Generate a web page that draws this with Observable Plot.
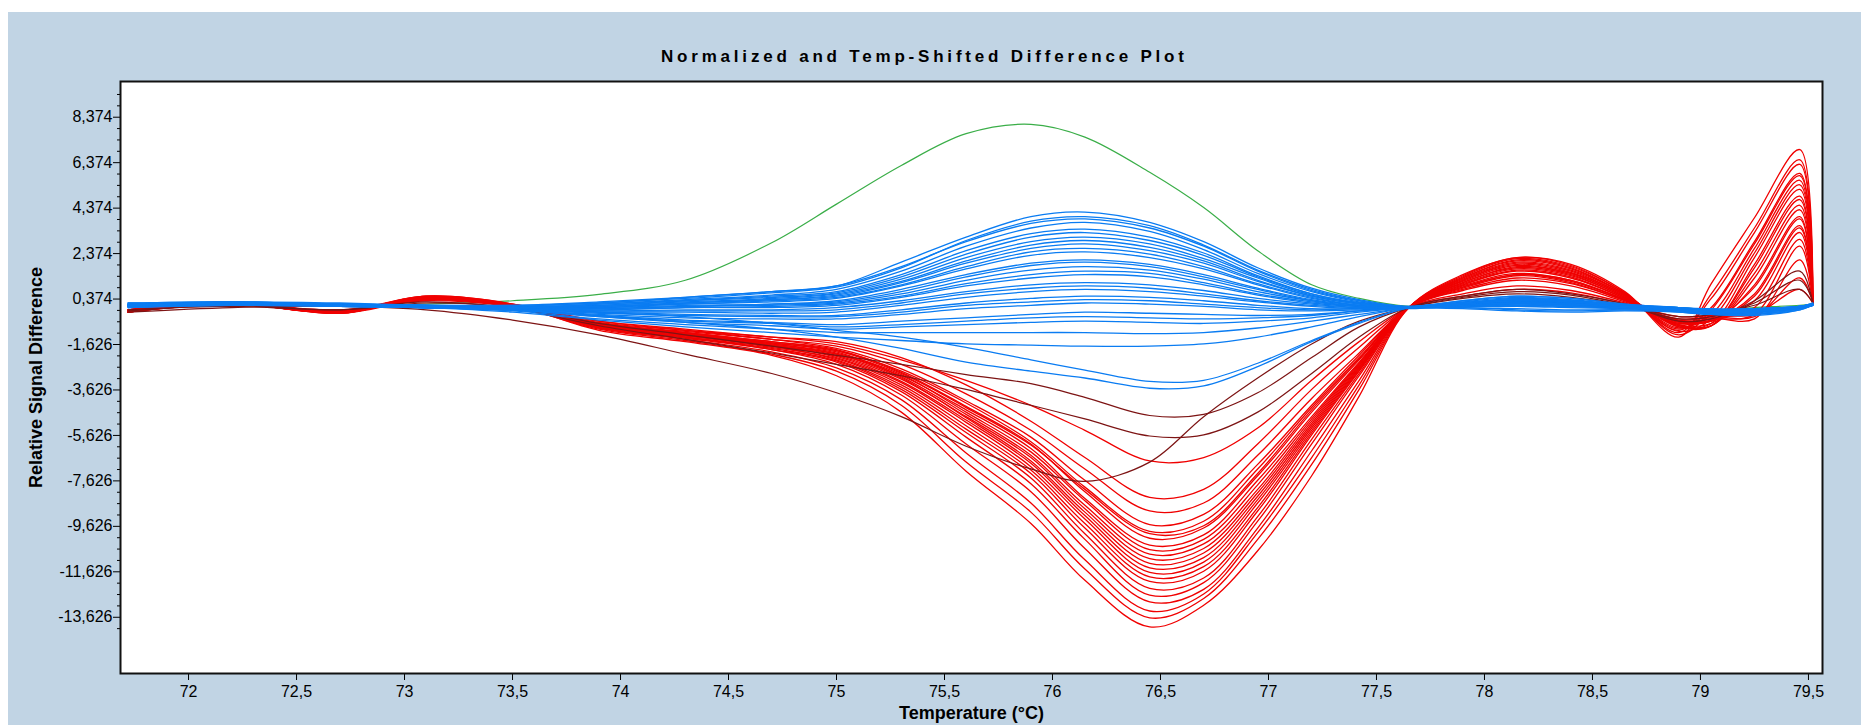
<!DOCTYPE html>
<html>
<head>
<meta charset="utf-8">
<script src="https://cdn.jsdelivr.net/npm/d3@7"></script>
<script src="https://cdn.jsdelivr.net/npm/@observablehq/plot@0.6"></script>
<style>
  html, body { margin: 0; padding: 0; background: #ffffff; width: 1861px; height: 725px; overflow: hidden; }
  #panel { position: absolute; left: 8px; top: 12px; width: 1853px; height: 713px; background: #c1d4e4; }
  #chart { position: absolute; left: 0; top: 0; }
  #title { position: absolute; left: 661px; top: 48px; font: bold 17px "Liberation Sans", Arial, sans-serif; line-height: 17px; white-space: nowrap; color: #000; }
</style>
</head>
<body>
<div id="panel"></div>
<div id="chart"></div>
<div id="title"></div>
<script>
const titleText = "Normalized and Temp-Shifted Difference Plot";
const xLabel = "Temperature (°C)";
const yLabel = "Relative Signal Difference";

const xTicks = [72, 72.5, 73, 73.5, 74, 74.5, 75, 75.5, 76, 76.5, 77, 77.5, 78, 78.5, 79, 79.5];
const yTicks = [8.374, 6.374, 4.374, 2.374, 0.374, -1.626, -3.626, -5.626, -7.626, -9.626, -11.626, -13.626];
const yMinorTicks = [9.374, 8.874, 7.874, 7.374, 6.874, 5.874, 5.374, 4.874, 3.874, 3.374, 2.874, 1.874, 1.374, 0.874,
  -0.126, -0.626, -1.126, -2.126, -2.626, -3.126, -4.126, -4.626, -5.126, -6.126, -6.626, -7.126,
  -8.126, -8.626, -9.126, -10.126, -10.626, -11.126, -12.126, -12.626, -13.126, -14.126];

// temperatures (°C) at which every curve was read
const temps = [71.72, 72.2, 72.7, 73.1, 73.5, 73.9, 74.3, 74.7, 75.0, 75.3, 75.6, 75.9, 76.15, 76.45,
  76.7, 76.95, 77.2, 77.42, 77.65, 77.9, 78.15, 78.4, 78.65, 78.9, 79.05, 79.25, 79.46, 79.52];

const greenValues = [0.1, 0.15, 0.1, 0.15, 0.3, 0.58, 1.2, 2.85, 4.55, 6.25, 7.65, 8.06, 7.5, 5.95,
  4.4, 2.5, 1.0, 0.4, 0.05, 0.1, 0.2, 0.15, 0.05, 0.0, -0.1, 0.0, 0.1, 0.15];

const blueValues = [
  [0.1,0.2,0.1,0.05,-0.1,-0.35,-0.65,-0.95,-1.3,-1.8,-2.4,-2.8,-3.1,-3.55,-3.45,-2.6,-1.5,-0.7,0.0,0.2,0.3,0.2,0.0,-0.2,-0.3,-0.2,0.0,0.15],
  [0.15,0.2,0.1,0.1,0.0,-0.2,-0.4,-0.7,-1.0,-1.3,-1.75,-2.3,-2.75,-3.25,-3.2,-2.45,-1.45,-0.65,0.0,0.15,0.25,0.15,0.0,-0.15,-0.25,-0.2,0.05,0.15],
  [0.15,0.25,0.15,0.1,0.1,0.25,0.45,0.7,0.95,2.0,3.1,4.0,4.2,3.75,2.9,1.75,0.85,0.35,0.05,0.3,0.5,0.4,0.15,0.0,-0.1,-0.05,0.05,0.15],
  [0.1,0.2,0.1,0.05,0.05,0.2,0.4,0.65,0.9,1.75,2.95,3.8,4.0,3.6,2.75,1.65,0.8,0.3,0.0,0.25,0.45,0.35,0.1,-0.05,-0.1,-0.1,0.05,0.15],
  [0.2,0.25,0.15,0.1,0.0,0.15,0.35,0.55,0.8,1.6,2.7,3.5,3.75,3.35,2.55,1.5,0.7,0.25,0.0,0.2,0.4,0.3,0.1,-0.1,-0.15,-0.1,0.0,0.15],
  [0.05,0.15,0.1,0.05,0.05,0.1,0.3,0.5,0.7,1.45,2.5,3.25,3.45,3.1,2.4,1.4,0.6,0.2,0.0,0.15,0.35,0.3,0.1,0.0,-0.1,-0.15,0.0,0.1],
  [0.1,0.2,0.1,0.0,0.0,0.1,0.25,0.4,0.6,1.25,2.2,2.9,3.1,2.8,2.15,1.3,0.55,0.2,0.0,0.1,0.3,0.25,0.05,-0.05,-0.2,-0.15,0.0,0.15],
  [0.15,0.25,0.2,0.1,0.05,0.05,0.2,0.35,0.5,1.1,1.95,2.6,2.8,2.5,1.95,1.15,0.5,0.15,0.0,0.2,0.4,0.3,0.1,0.0,-0.1,-0.05,0.05,0.2],
  [0.0,0.15,0.05,0.0,-0.05,0.0,0.15,0.25,0.4,0.95,1.7,2.3,2.45,2.2,1.7,1.0,0.4,0.1,-0.05,0.1,0.25,0.2,0.05,-0.1,-0.2,-0.2,-0.05,0.1],
  [0.1,0.2,0.15,0.05,0.0,0.0,0.1,0.15,0.3,0.8,1.45,1.95,2.1,1.9,1.45,0.85,0.35,0.1,0.0,0.15,0.3,0.2,0.05,-0.05,-0.15,-0.1,0.0,0.15],
  [0.15,0.2,0.1,0.1,0.0,-0.05,0.05,0.1,0.2,0.6,1.2,1.65,1.8,1.65,1.25,0.7,0.3,0.05,0.0,0.05,0.1,0.05,-0.05,-0.15,-0.25,-0.2,-0.05,0.1],
  [0.05,0.15,0.1,0.05,-0.05,-0.1,0.0,0.0,0.1,0.45,0.95,1.3,1.45,1.35,1.0,0.55,0.2,0.05,0.0,0.0,-0.1,-0.15,-0.1,-0.15,-0.3,-0.3,-0.1,0.1],
  [0.1,0.2,0.1,0.0,-0.05,-0.15,-0.1,-0.1,0.0,0.3,0.7,1.0,1.1,1.0,0.75,0.4,0.15,0.0,0.0,0.05,0.1,0.05,0.0,-0.1,-0.2,-0.25,-0.05,0.15],
  [0.0,0.1,0.05,0.0,-0.1,-0.2,-0.2,-0.25,-0.2,0.1,0.45,0.7,0.8,0.7,0.5,0.25,0.05,-0.05,0.0,-0.05,-0.15,-0.2,-0.15,-0.2,-0.3,-0.35,-0.1,0.1],
  [0.1,0.15,0.1,0.05,-0.05,-0.2,-0.3,-0.35,-0.35,-0.1,0.2,0.4,0.5,0.45,0.3,0.1,-0.05,-0.05,0.0,0.1,0.2,0.15,0.05,-0.05,-0.15,-0.15,0.0,0.15],
  [0.05,0.15,0.05,0.0,-0.1,-0.3,-0.45,-0.5,-0.5,-0.3,-0.05,0.1,0.2,0.15,0.05,-0.1,-0.15,-0.1,0.0,0.05,0.05,0.0,-0.05,-0.1,-0.2,-0.2,0.0,0.15],
  [0.15,0.2,0.1,0.0,-0.1,-0.35,-0.55,-0.65,-0.75,-0.6,-0.45,-0.3,-0.2,-0.25,-0.3,-0.35,-0.3,-0.15,0.0,0.1,0.15,0.1,0.0,-0.1,-0.15,-0.1,0.0,0.1],
  [0.1,0.2,0.15,0.05,-0.1,-0.4,-0.65,-0.8,-0.95,-0.85,-0.75,-0.65,-0.6,-0.65,-0.7,-0.6,-0.45,-0.2,0.0,0.15,0.3,0.25,0.1,-0.05,-0.1,-0.05,0.05,0.15],
  [0.05,0.15,0.1,0.0,-0.15,-0.5,-0.75,-0.95,-1.1,-1.1,-1.1,-1.1,-1.1,-1.15,-1.1,-0.9,-0.6,-0.3,0.0,0.2,0.35,0.3,0.1,0.0,-0.1,-0.1,0.05,0.15],
  [0.1,0.2,0.1,0.0,-0.2,-0.55,-0.85,-1.1,-1.3,-1.45,-1.6,-1.65,-1.7,-1.7,-1.6,-1.3,-0.85,-0.4,0.0,0.2,0.3,0.25,0.05,-0.1,-0.2,-0.15,0.0,0.15],
  [0.2,0.25,0.15,0.1,0.1,0.2,0.45,0.7,0.95,1.8,2.9,3.7,3.9,3.5,2.7,1.6,0.75,0.3,0.05,0.3,0.5,0.4,0.15,0.0,-0.05,-0.05,0.05,0.2],
  [0.1,0.2,0.1,0.05,0.0,0.15,0.3,0.45,0.65,1.35,2.35,3.1,3.3,2.95,2.3,1.35,0.6,0.2,0.0,0.2,0.35,0.3,0.1,-0.05,-0.15,-0.1,0.0,0.1],
  [0.05,0.15,0.05,0.0,0.0,0.05,0.2,0.35,0.55,1.15,2.05,2.75,2.95,2.65,2.05,1.2,0.5,0.15,0.0,0.1,0.2,0.15,0.0,-0.1,-0.2,-0.15,0.0,0.15],
  [0.15,0.2,0.15,0.05,0.0,0.05,0.15,0.3,0.45,1.0,1.8,2.45,2.6,2.35,1.8,1.05,0.45,0.1,0.0,0.15,0.3,0.25,0.05,-0.05,-0.1,-0.1,0.05,0.15],
  [0.1,0.15,0.1,0.0,-0.05,-0.05,0.05,0.15,0.25,0.7,1.35,1.85,2.0,1.8,1.35,0.8,0.3,0.05,0.0,0.05,0.15,0.1,0.0,-0.1,-0.2,-0.2,0.0,0.1],
  [0.0,0.1,0.05,0.0,-0.05,-0.1,0.0,0.05,0.15,0.5,1.05,1.45,1.6,1.5,1.1,0.6,0.25,0.05,0.0,0.1,0.2,0.15,0.0,-0.1,-0.2,-0.15,0.0,0.15],
  [0.1,0.2,0.1,0.05,-0.05,-0.15,-0.15,-0.15,-0.1,0.2,0.6,0.85,0.95,0.85,0.6,0.3,0.1,0.0,0.0,0.0,-0.05,-0.1,-0.1,-0.15,-0.25,-0.3,-0.05,0.1],
  [0.05,0.15,0.1,0.0,-0.1,-0.25,-0.35,-0.4,-0.4,-0.2,0.1,0.25,0.35,0.3,0.15,0.0,-0.1,-0.05,0.0,0.05,0.1,0.05,0.0,-0.1,-0.15,-0.15,0.0,0.15],
  [0.1,0.2,0.1,0.0,-0.1,-0.4,-0.6,-0.7,-0.85,-0.75,-0.6,-0.45,-0.4,-0.45,-0.5,-0.45,-0.35,-0.15,0.0,0.1,0.2,0.15,0.05,-0.05,-0.1,-0.05,0.05,0.15]
];

const redValues = [
  [-0.1,0.15,-0.1,0.3,0.05,-0.6,-0.95,-1.3,-1.6,-2.3,-3.2,-4.3,-5.4,-6.75,-6.6,-5.3,-3.2,-1.5,0.0,0.5,0.8,0.65,0.15,-0.4,-0.35,-0.3,0.8,0.2],
  [-0.15,0.2,-0.15,0.35,0.1,-0.65,-1.0,-1.3,-1.5,-2.2,-3.4,-5.0,-6.6,-8.35,-8.0,-6.0,-3.6,-1.75,0.0,0.6,0.95,0.75,0.2,-0.5,-0.4,-0.4,1.3,0.25],
  [-0.2,0.15,-0.2,0.4,0.05,-0.7,-1.05,-1.4,-1.7,-2.5,-3.8,-5.4,-7.1,-8.95,-8.6,-6.5,-4.0,-2.0,0.0,0.75,1.2,0.95,0.25,-0.55,-0.45,-0.5,2.1,0.2],
  [-0.1,0.2,-0.15,0.45,0.15,-0.6,-1.0,-1.4,-1.8,-2.7,-4.1,-5.7,-7.6,-9.55,-9.1,-6.9,-4.3,-2.1,0.0,0.8,1.3,1.05,0.3,-0.6,-0.5,-0.3,2.7,0.25],
  [-0.2,0.25,-0.2,0.35,0.1,-0.75,-1.15,-1.55,-1.9,-2.8,-4.2,-5.9,-7.9,-9.85,-9.4,-7.1,-4.4,-2.2,0.0,0.85,1.4,1.1,0.3,-0.65,-0.55,0.3,3.3,0.2],
  [-0.15,0.2,-0.25,0.4,0.05,-0.7,-1.1,-1.5,-1.85,-2.85,-4.35,-6.0,-8.1,-10.15,-9.7,-7.4,-4.6,-2.3,0.0,0.9,1.45,1.15,0.35,-0.6,-0.6,0.9,3.9,0.25],
  [-0.1,0.15,-0.2,0.5,0.15,-0.8,-1.2,-1.65,-2.05,-3.0,-4.5,-6.2,-8.4,-10.45,-10.0,-7.6,-4.8,-2.4,0.0,0.95,1.5,1.2,0.35,-0.7,-0.5,0.0,3.0,0.2],
  [-0.2,0.2,-0.15,0.45,0.1,-0.75,-1.15,-1.6,-2.0,-2.95,-4.6,-6.35,-8.5,-10.65,-10.2,-7.8,-4.9,-2.45,0.0,1.0,1.6,1.3,0.4,-0.75,-0.8,1.3,4.3,0.25],
  [-0.15,0.25,-0.2,0.4,0.1,-0.7,-1.1,-1.55,-1.95,-3.05,-4.7,-6.5,-8.7,-10.85,-10.4,-8.0,-5.0,-2.5,0.0,1.0,1.65,1.35,0.4,-0.7,-0.6,0.6,3.6,0.2],
  [-0.1,0.2,-0.25,0.35,0.05,-0.8,-1.2,-1.65,-2.1,-3.15,-4.8,-6.6,-8.85,-11.05,-10.6,-8.15,-5.1,-2.55,0.0,1.05,1.7,1.4,0.45,-0.8,-0.8,1.75,4.75,0.25],
  [-0.2,0.15,-0.2,0.45,0.1,-0.75,-1.15,-1.6,-2.05,-3.1,-4.85,-6.75,-9.0,-11.25,-10.8,-8.3,-5.2,-2.6,0.0,1.1,1.75,1.45,0.45,-0.75,-0.7,1.0,4.0,0.2],
  [-0.15,0.2,-0.15,0.4,0.1,-0.8,-1.25,-1.7,-2.15,-3.25,-4.95,-6.85,-9.15,-11.45,-11.0,-8.45,-5.3,-2.65,0.0,1.1,1.8,1.5,0.5,-0.85,-0.7,2.2,5.2,0.25],
  [-0.1,0.25,-0.2,0.35,0.05,-0.75,-1.2,-1.65,-2.2,-3.3,-5.05,-7.0,-9.3,-11.65,-11.2,-8.6,-5.4,-2.7,0.0,1.15,1.85,1.5,0.5,-0.8,-0.8,1.5,4.5,0.2],
  [-0.2,0.2,-0.25,0.45,0.1,-0.85,-1.3,-1.75,-2.25,-3.4,-5.2,-7.15,-9.5,-11.85,-11.4,-8.8,-5.5,-2.75,0.0,1.2,1.9,1.55,0.55,-0.9,-0.3,2.6,5.6,0.25],
  [-0.15,0.15,-0.2,0.4,0.05,-0.8,-1.25,-1.7,-2.3,-3.5,-5.35,-7.3,-9.7,-12.05,-11.6,-8.95,-5.6,-2.8,0.0,1.2,1.95,1.6,0.55,-0.85,-0.8,1.9,4.9,0.2],
  [-0.1,0.2,-0.15,0.5,0.15,-0.85,-1.3,-1.8,-2.35,-3.6,-5.5,-7.5,-9.95,-12.35,-11.9,-9.2,-5.8,-2.9,0.0,1.25,2.0,1.65,0.6,-0.95,0.0,2.9,5.9,0.25],
  [-0.2,0.25,-0.2,0.4,0.1,-0.9,-1.35,-1.85,-2.4,-3.7,-5.7,-7.75,-10.2,-12.65,-12.1,-9.4,-6.0,-3.0,0.0,1.3,2.05,1.7,0.6,-1.0,0.4,3.3,6.3,0.2],
  [-0.15,0.2,-0.25,0.45,0.05,-0.85,-1.3,-1.85,-2.5,-3.85,-6.0,-8.1,-10.6,-12.95,-12.4,-9.7,-6.3,-3.2,0.0,1.3,2.1,1.75,0.6,-1.05,-0.5,2.4,5.4,0.25],
  [-0.1,0.15,-0.2,0.4,0.1,-0.9,-1.4,-1.95,-2.65,-4.05,-6.4,-8.6,-11.1,-13.35,-12.6,-9.9,-6.6,-3.4,0.0,1.35,2.15,1.8,0.65,-1.1,0.6,3.5,6.5,0.2],
  [-0.2,0.2,-0.15,0.35,0.05,-0.95,-1.45,-2.05,-2.8,-4.3,-6.8,-9.0,-11.5,-13.65,-12.8,-10.2,-6.9,-3.6,0.0,1.4,2.2,1.85,0.65,-1.2,-0.1,2.8,5.8,0.25],
  [-0.15,0.25,-0.2,0.4,0.1,-1.0,-1.5,-2.1,-3.0,-4.6,-7.2,-9.5,-12.0,-14.05,-13.1,-10.7,-7.4,-3.9,0.0,1.45,2.2,1.9,0.7,-1.3,1.05,3.95,6.95,0.2],
  [-0.1,0.2,-0.2,0.5,0.1,-0.7,-1.1,-1.5,-1.9,-2.9,-4.4,-6.05,-8.0,-9.95,-9.6,-7.3,-4.5,-2.25,0.0,0.9,1.45,1.2,0.35,-0.6,-0.6,0.5,3.5,0.25]
];

const darkRedValues = [
  [-0.2,0.0,0.05,-0.1,-0.55,-1.2,-2.05,-2.9,-3.75,-4.8,-6.1,-7.1,-7.65,-6.8,-4.8,-3.1,-1.6,-0.6,0.0,0.4,0.6,0.45,0.1,-0.4,-0.3,0.1,0.8,0.2],
  [-0.1,0.05,-0.1,0.2,0.0,-0.7,-1.2,-1.7,-2.1,-2.5,-2.95,-3.35,-3.95,-4.75,-4.7,-3.75,-2.2,-0.85,0.0,0.45,0.7,0.55,0.1,-0.5,-0.4,0.2,1.2,0.25],
  [-0.15,0.1,-0.1,0.25,-0.05,-0.8,-1.4,-2.0,-2.5,-3.0,-3.6,-4.3,-4.9,-5.65,-5.6,-4.6,-2.9,-1.3,0.0,0.5,0.8,0.6,0.15,-0.6,-0.5,0.3,1.6,0.2]
];

function toRows(curves, prefix) {
  return curves.flatMap((vals, i) => vals.map((v, j) => ({ t: temps[j], v, id: prefix + i })));
}
const greenRows = toRows([greenValues], "g");
const blueRows = toRows(blueValues, "b");
const redRows = toRows(redValues, "r");
const darkRedRows = toRows(darkRedValues, "d");

const fmtY = d => d.toFixed(3).replace(".", ",");
const fmtX = d => String(d).replace(".", ",");
const font = '"Liberation Sans", Arial, sans-serif';

const chart = Plot.plot({
  width: 1861,
  height: 725,
  marginTop: 81,
  marginBottom: 52,
  marginLeft: 120,
  marginRight: 39,
  style: { background: "transparent", fontFamily: font, fontSize: "16px", color: "#000", overflow: "visible" },
  x: { domain: [71.685, 79.565], label: null },
  y: { domain: [-16.1, 9.945], label: null },
  marks: [
    Plot.frame({ fill: "white", stroke: "none" }),
    Plot.axisY({ ticks: yMinorTicks, tickSize: 3, tickFormat: () => "", label: null }),
    Plot.axisY({ ticks: yTicks, tickSize: 7, tickPadding: 1, tickFormat: fmtY, fontSize: 16, label: null }),
    Plot.axisX({ ticks: xTicks, tickSize: 7, tickPadding: 5, tickFormat: fmtX, fontSize: 16, label: null }),
    Plot.line(greenRows, { x: "t", y: "v", z: "id", stroke: "#3aae48", strokeWidth: 1.2, curve: "catmull-rom", clip: true }),
    Plot.line(redRows, { x: "t", y: "v", z: "id", stroke: "#f00000", strokeWidth: 1.3, curve: "catmull-rom", clip: true }),
    Plot.line(darkRedRows, { x: "t", y: "v", z: "id", stroke: "#7d1414", strokeWidth: 1.2, curve: "catmull-rom", clip: true }),
    Plot.line(blueRows, { x: "t", y: "v", z: "id", stroke: "#0a7cf2", strokeWidth: 1.3, curve: "catmull-rom", clip: true }),
    Plot.frame({ stroke: "#111", strokeWidth: 2 }),
    Plot.text([xLabel], { text: d => d, frameAnchor: "bottom", textAnchor: "middle", dy: 45, lineAnchor: "bottom", fontWeight: "bold", fontSize: 18, fill: "#000" }),
    Plot.text([yLabel], { text: d => d, frameAnchor: "left", textAnchor: "middle", dx: -79, rotate: -90, lineAnchor: "bottom", fontWeight: "bold", fontSize: 18, fill: "#000" })
  ]
});
document.getElementById("chart").appendChild(chart);

// title with spacing so it spans the same width as in the reference
const titleEl = document.getElementById("title");
titleEl.textContent = titleText;
const ctx = document.createElement("canvas").getContext("2d");
ctx.font = 'bold 17px ' + font;
const natural = ctx.measureText(titleText).width;
const spacing = Math.max(0, (523 - natural) / (titleText.length - 1));
titleEl.style.letterSpacing = spacing.toFixed(2) + "px";
</script>
</body>
</html>
